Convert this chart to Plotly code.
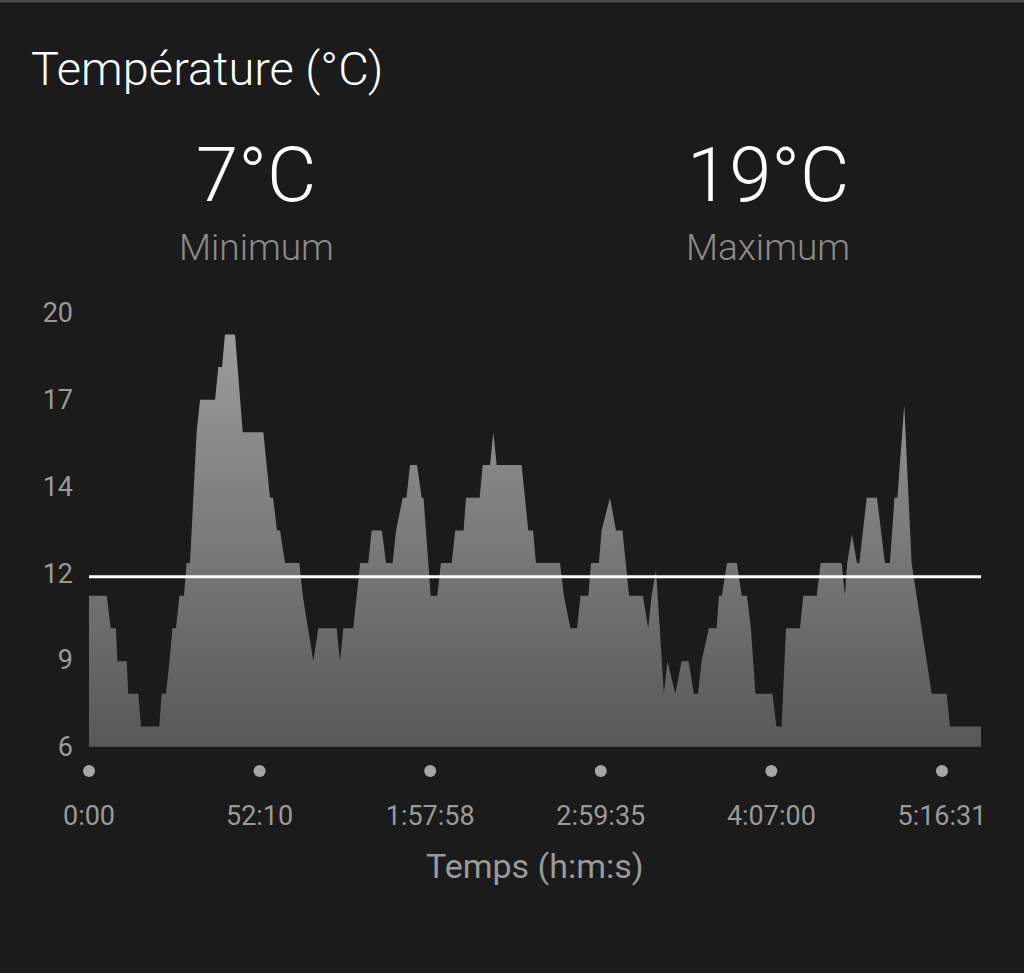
import plotly.graph_objects as go

# ---- data ----
title_text = "Température (°C)"
min_value_text = "7°C"
min_label = "Minimum"
max_value_text = "19°C"
max_label = "Maximum"
x_title = "Temps (h:m:s)"

# position along the activity (arbitrary distance units, ticks every 10)
dist = [0, 1.04, 1.27, 1.58, 1.66, 2.21, 2.30, 2.89, 3.05, 4.12, 4.26, 4.51, 4.72, 4.89, 5.10,
        5.30, 5.57, 5.72, 5.92, 6.31, 6.51, 7.39, 7.58, 7.80, 7.97, 8.56, 9.01, 10.22, 10.61,
        10.79, 11.02, 11.20, 11.49, 12.33, 12.53, 13.15, 13.44, 14.52, 14.71, 14.91, 15.49,
        15.90, 16.37, 16.57, 17.17, 17.41, 17.80, 18.00, 18.39, 18.61, 18.82, 19.23, 19.50,
        19.61, 20.03, 20.42, 20.63, 21.26, 21.47, 21.96, 22.10, 22.90, 23.08, 23.51, 23.70,
        23.90, 25.36, 25.75, 26.03, 26.20, 27.61, 27.84, 28.22, 28.61, 28.81, 29.27, 29.43,
        29.89, 30.05, 30.54, 30.89, 31.27, 31.66, 32.47, 32.78, 32.98, 33.24, 33.70, 33.91,
        34.37, 34.74, 35.15, 35.46, 35.70, 35.91, 36.34, 36.79, 36.93, 37.10, 37.40, 37.98,
        38.26, 38.57, 38.80, 39.07, 40.06, 40.30, 40.60, 40.86, 41.68, 41.87, 42.66, 42.89,
        44.12, 44.31, 44.45, 44.72, 45.02, 45.16, 45.59, 46.19, 46.66, 46.95, 47.22, 47.39,
        47.79, 48.22, 48.52, 49.10, 49.40, 50.28, 50.47, 52.29]

temp = [10.87, 10.87, 9.82, 9.82, 8.76, 8.76, 7.71, 7.71, 6.65, 6.65, 7.71, 7.71, 8.76, 9.82, 9.82,
        10.87, 10.87, 11.93, 11.93, 16.15, 17.20, 17.20, 18.26, 18.26, 19.31, 19.31, 16.15, 16.15, 14.04,
        14.04, 12.98, 12.98, 11.93, 11.93, 10.87, 8.76, 9.82, 9.82, 8.76, 9.82, 9.82,
        11.93, 11.93, 12.98, 12.98, 11.93, 11.93, 12.98, 14.04, 14.04, 15.09, 15.09, 14.04,
        14.04, 10.87, 10.87, 11.93, 11.93, 12.98, 12.98, 14.04, 14.04, 15.09, 15.09, 16.15,
        15.09, 15.09, 12.98, 12.98, 11.93, 11.93, 10.87, 9.82, 9.82, 10.87, 10.87, 11.93,
        11.93, 12.98, 14.04, 12.98, 12.98, 10.87, 10.87, 9.82, 10.87, 11.70, 7.71, 8.76,
        7.71, 8.76, 8.76, 7.71, 7.71, 8.76, 9.82, 9.82, 10.87, 10.87, 11.93, 11.93,
        10.87, 10.87, 9.82, 7.71, 7.71, 6.65, 6.65, 9.82, 9.82, 10.87, 10.87, 11.93,
        11.93, 10.87, 11.93, 12.85, 11.93, 11.93, 14.04, 14.04, 11.93, 11.93, 14.04, 14.04,
        17.03, 11.93, 10.87, 8.76, 7.71, 7.71, 6.65, 6.65]

avg_temp = 11.49
x_end = 52.29
axis_floor = 6

tick_pos = [0, 10, 20, 30, 40, 50]
tick_text = ["0:00", "52:10", "1:57:58", "2:59:35", "4:07:00", "5:16:31"]

y_ticks = [6, 8.8, 11.6, 14.4, 17.2, 20]
y_tick_text = ["6", "9", "12", "14", "17", "20"]

# ---- layout geometry (pixels) ----
W, H = 1024, 973
PL, PR, PT, PB = 89, 981, 313, 790          # plot area
y_top_val = 20
px_per_unit = (746.7 - 313) / 14.0
y_bottom_val = 6 - (PB - 746.7) / px_per_unit
dot_val = 6 - (771 - 746.7) / px_per_unit


def px_x(p):
    return (p - PL) / (PR - PL)


def px_y(p):
    return (PB - p) / (PB - PT)


BG = "#1b1b1b"
FONT = "Roboto"

fig = go.Figure()

# baseline for the area fill
fig.add_trace(go.Scatter(
    x=[0, x_end], y=[axis_floor, axis_floor], mode="lines",
    line=dict(width=0, color=BG), hoverinfo="skip", showlegend=False,
))
fig.add_trace(go.Scatter(
    x=dist, y=temp, mode="lines", line=dict(width=0, color="#8a8a8a"),
    fill="tonexty",
    fillgradient=dict(type="vertical", start=6, stop=19.4,
                      colorscale=[[0, "#585858"], [1, "#9c9c9c"]]),
    hoverinfo="skip", showlegend=False,
))

# tick dots under the axis
fig.add_trace(go.Scatter(
    x=tick_pos, y=[dot_val] * len(tick_pos), mode="markers",
    marker=dict(size=12, color="#a6a6a6", line=dict(width=0)),
    cliponaxis=False, hoverinfo="skip", showlegend=False,
))

fig.add_shape(type="line", xref="x", yref="y", x0=0, x1=x_end, y0=avg_temp, y1=avg_temp,
              line=dict(color="#ffffff", width=3))

# thin top border
fig.add_shape(type="rect", xref="paper", yref="paper", x0=px_x(-5), x1=px_x(W + 5),
              y0=px_y(2.5), y1=px_y(-2), line=dict(width=0), fillcolor="#4a4a4a")

ann = []
ann.append(dict(text=title_text, x=px_x(29), y=px_y(68), xref="paper", yref="paper",
                xanchor="left", yanchor="middle", showarrow=False,
                font=dict(family=FONT, size=47, color="#ffffff", weight=300)))
for txt, cx in ((min_value_text, 256), (max_value_text, 768)):
    ann.append(dict(text=txt, x=px_x(cx), y=px_y(175), xref="paper", yref="paper",
                    xanchor="center", yanchor="middle", showarrow=False,
                    font=dict(family=FONT, size=76, color="#ffffff", weight=300)))
for txt, cx in ((min_label, 256), (max_label, 768)):
    ann.append(dict(text=txt, x=px_x(cx), y=px_y(247), xref="paper", yref="paper",
                    xanchor="center", yanchor="middle", showarrow=False,
                    font=dict(family=FONT, size=37, color="#8c8c8c", weight=300)))
ann.append(dict(text=x_title, x=px_x(535), y=px_y(866), xref="paper", yref="paper",
                xanchor="center", yanchor="middle", showarrow=False,
                font=dict(family=FONT, size=34, color="#9a9a9a")))

fig.update_layout(
    width=W, height=H,
    margin=dict(l=PL, r=W - PR, t=PT, b=H - PB),
    paper_bgcolor=BG, plot_bgcolor=BG,
    annotations=ann,
    showlegend=False,
)
fig.update_xaxes(range=[0, x_end], tickvals=tick_pos, ticktext=tick_text,
                 showgrid=False, zeroline=False, showline=False, ticks="",
                 ticklabelstandoff=7,
                 tickfont=dict(family=FONT, size=27, color="#9a9a9a"), fixedrange=True)
fig.update_yaxes(range=[y_bottom_val, y_top_val], tickvals=y_ticks, ticktext=y_tick_text,
                 showgrid=False, zeroline=False, showline=False, ticks="",
                 ticklabelstandoff=15,
                 tickfont=dict(family=FONT, size=27, color="#9a9a9a"), fixedrange=True)

fig.write_html("out.html", config={"displayModeBar": False},
               post_script="document.body.style.margin='0';document.body.style.backgroundColor='#1b1b1b';")
